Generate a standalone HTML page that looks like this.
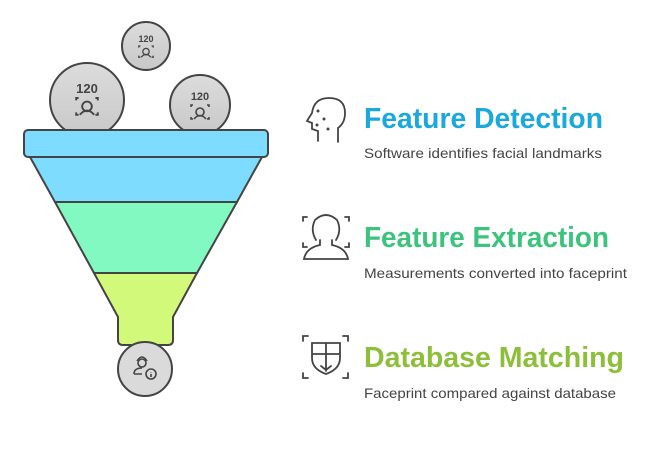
<!DOCTYPE html>
<html><head><meta charset="utf-8"><style>
html,body{margin:0;padding:0;background:#fff;width:663px;height:461px;overflow:hidden}
svg text{font-family:"Liberation Sans",sans-serif}
</style></head><body>
<svg width="663" height="461" viewBox="0 0 663 461" xmlns="http://www.w3.org/2000/svg">
<defs>
<linearGradient id="g" x1="0" y1="0" x2="0" y2="1"><stop offset="0" stop-color="#dcdcdc"/><stop offset="1" stop-color="#c8c8c8"/></linearGradient>
<g id="face" fill="none" stroke="#444" stroke-width="1.6">
<circle cx="0" cy="2" r="4"/><path d="M-6 9 q6 -7 12 0"/><path d="M-9 -3 v-2 h2 M7 -5 h2 v2 M-9 7 v2 h2 M7 9 h2 v-2"/>
</g>
</defs>
<!-- balls -->
<circle cx="146" cy="46" r="24" fill="url(#g)" stroke="#444" stroke-width="2"/>
<text x="146" y="42" font-size="9" font-weight="bold" fill="#444" text-anchor="middle">120</text>
<use href="#face" transform="translate(146,50) scale(0.8)"/>
<circle cx="87" cy="100" r="37" fill="url(#g)" stroke="#444" stroke-width="2"/>
<text x="87" y="93" font-size="13" font-weight="bold" fill="#444" text-anchor="middle">120</text>
<use href="#face" transform="translate(87,104) scale(1.2)"/>
<circle cx="200" cy="105" r="30" fill="url(#g)" stroke="#444" stroke-width="2"/>
<text x="200" y="100" font-size="11" font-weight="bold" fill="#444" text-anchor="middle">120</text>
<use href="#face" transform="translate(200,110) scale(1)"/>
<!-- funnel -->
<path d="M30 157 L262 157 L237 202 L55 202 Z" fill="#7ddcff" stroke="#444" stroke-width="2"/>
<path d="M55 202 L237 202 L197 273 L94 273 Z" fill="#82f9c0" stroke="#444" stroke-width="2"/>
<path d="M94 273 L197 273 L173 317 L173 340 q0 5 -5 5 L123 345 q-5 0 -5 -5 L118 317 Z" fill="#d3f97a" stroke="#444" stroke-width="2"/>
<rect x="24" y="130" width="244" height="27" rx="4" fill="#7ddcff" stroke="#444" stroke-width="2"/>
<circle cx="145" cy="369" r="27" fill="#dadada" stroke="#444" stroke-width="2"/>
<g fill="none" stroke="#444" stroke-width="1.6">
<circle cx="142" cy="363" r="4"/><path d="M134 374 q0 -6 8 -6 M134 374 h8"/><path d="M137 361 q5 -8 10 0"/>
<circle cx="151" cy="374" r="5" fill="#dadada"/><path d="M151 372 v0.5 M151 374 v3"/>
</g>
<!-- icons -->
<g fill="none" stroke="#444" stroke-width="1.8" stroke-linecap="round">
<path d="M318 141 v-10 l-6 -2 v-6 l-5 -2 l5 -8 q2 -15 17 -15 q16 0 16 15 q0 10 -7 15 v14"/>
<circle cx="318" cy="111" r="0.6" fill="#444"/><circle cx="324" cy="119" r="0.6" fill="#444"/><circle cx="317" cy="125" r="0.6" fill="#444"/><circle cx="328" cy="129" r="0.6" fill="#444"/>
<path d="M303 221 v-4 h4 M345 217 h4 v4 M303 243 v4 h4 M349 243 v4 h-4"/>
<path d="M316 240 q-6 -10 -1 -20 q11 -10 22 0 q5 10 -1 20 M320 240 v5 q-14 3 -16 14 h44 q-2 -11 -16 -14 v-5"/>
<path d="M303 341 v-5 h5 M343 336 h5 v5 M303 373 v5 h5 M348 373 v5 h-5"/>
<path d="M312 343 h28 v15 q0 11 -14 16 q-14 -5 -14 -16 Z M312 354 h28 M326 343 v28 M321 366 l5 4 l5 -4"/>
</g>
<!-- text -->
<text x="364" y="128" font-size="29" font-weight="bold" fill="#1ba9dd" textLength="239" lengthAdjust="spacingAndGlyphs">Feature Detection</text>
<text x="364" y="158" font-size="14" fill="#444" textLength="238" lengthAdjust="spacingAndGlyphs">Software identifies facial landmarks</text>
<text x="364" y="247" font-size="29" font-weight="bold" fill="#3cc47c" textLength="245" lengthAdjust="spacingAndGlyphs">Feature Extraction</text>
<text x="364" y="278" font-size="14" fill="#444" textLength="263" lengthAdjust="spacingAndGlyphs">Measurements converted into faceprint</text>
<text x="364" y="367" font-size="29" font-weight="bold" fill="#8dbf3b" textLength="260" lengthAdjust="spacingAndGlyphs">Database Matching</text>
<text x="364" y="398" font-size="14" fill="#444" textLength="252" lengthAdjust="spacingAndGlyphs">Faceprint compared against database</text>
</svg>
</body></html>
